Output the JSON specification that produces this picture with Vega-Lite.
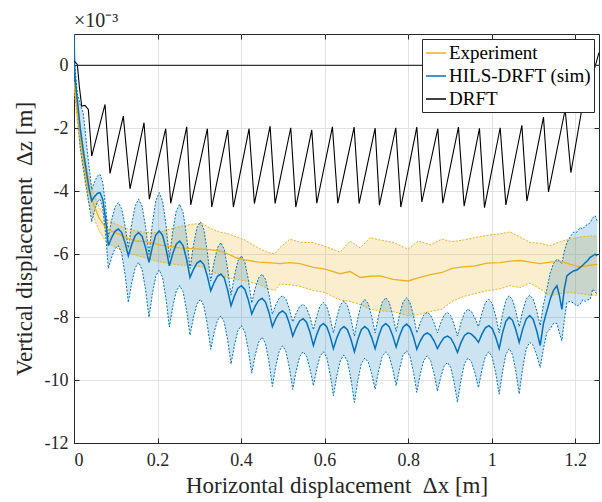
{
  "$schema": "https://vega.github.io/schema/vega-lite/v6.json",
  "width": 525,
  "height": 409,
  "autosize": {"type": "none"},
  "padding": {"left": 74, "top": 34, "right": 3, "bottom": 59},
  "background": "white",
  "config": {
    "font": "Liberation Serif",
    "view": {"stroke": "#262626", "strokeWidth": 1},
    "axis": {
      "labelFont": "Liberation Serif",
      "labelFontSize": 18,
      "labelColor": "#262626",
      "titleFont": "Liberation Serif",
      "titleFontSize": 23,
      "titleFontWeight": "normal",
      "titleColor": "#262626",
      "domainColor": "#262626",
      "tickColor": "#262626",
      "gridColor": "#e2e2e2",
      "grid": true
    },
    "legend": {
      "orient": "top-right",
      "offset": 5,
      "strokeColor": "#262626",
      "fillColor": "white",
      "padding": 3,
      "labelFont": "Liberation Serif",
      "labelFontSize": 19,
      "labelColor": "black",
      "symbolType": "stroke",
      "symbolSize": 400,
      "symbolStrokeWidth": 1.5,
      "rowPadding": 2,
      "labelOffset": 2,
      "labelLimit": 300
    }
  },
  "title": {
    "text": "×10⁻³",
    "anchor": "start",
    "frame": "group",
    "font": "Liberation Serif",
    "fontSize": 20,
    "fontWeight": "normal",
    "color": "#262626",
    "offset": 3
  },
  "datasets": {
    "blue": [
      {"x":0.000,"lo":1.0,"mid":1.0,"hi":1.0},
      {"x":0.002,"lo":-0.6,"mid":-0.3,"hi":0.0},
      {"x":0.008,"lo":-1.5,"mid":-1.1,"hi":-0.9},
      {"x":0.015,"lo":-2.6,"mid":-2.0,"hi":-1.25},
      {"x":0.022,"lo":-3.2,"mid":-2.7,"hi":-1.5},
      {"x":0.030,"lo":-3.9,"mid":-3.4,"hi":-2.5},
      {"x":0.036,"lo":-4.4,"mid":-3.9,"hi":-3.2},
      {"x":0.0424,"lo":-4.97,"mid":-4.30,"hi":-3.95},
      {"x":0.0490,"lo":-4.61,"mid":-4.17,"hi":-3.71},
      {"x":0.0557,"lo":-4.34,"mid":-4.07,"hi":-3.52},
      {"x":0.0623,"lo":-4.25,"mid":-4.04,"hi":-3.46},
      {"x":0.0689,"lo":-4.54,"mid":-4.26,"hi":-3.72},
      {"x":0.0756,"lo":-5.35,"mid":-4.89,"hi":-4.46},
      {"x":0.0822,"lo":-6.45,"mid":-5.73,"hi":-5.45},
      {"x":0.0902,"lo":-6.09,"mid":-5.47,"hi":-4.91},
      {"x":0.0982,"lo":-5.82,"mid":-5.27,"hi":-4.50},
      {"x":0.1062,"lo":-5.73,"mid":-5.20,"hi":-4.36},
      {"x":0.1141,"lo":-5.96,"mid":-5.31,"hi":-4.55},
      {"x":0.1221,"lo":-6.63,"mid":-5.63,"hi":-5.08},
      {"x":0.1301,"lo":-7.53,"mid":-6.05,"hi":-5.80},
      {"x":0.1384,"lo":-6.90,"mid":-5.68,"hi":-5.03},
      {"x":0.1466,"lo":-6.43,"mid":-5.41,"hi":-4.45},
      {"x":0.1549,"lo":-6.26,"mid":-5.31,"hi":-4.25},
      {"x":0.1631,"lo":-6.49,"mid":-5.43,"hi":-4.48},
      {"x":0.1714,"lo":-7.13,"mid":-5.79,"hi":-5.13},
      {"x":0.1796,"lo":-8.00,"mid":-6.26,"hi":-6.00},
      {"x":0.1877,"lo":-7.25,"mid":-5.76,"hi":-5.02},
      {"x":0.1958,"lo":-6.70,"mid":-5.39,"hi":-4.30},
      {"x":0.2040,"lo":-6.50,"mid":-5.26,"hi":-4.04},
      {"x":0.2121,"lo":-6.74,"mid":-5.40,"hi":-4.31},
      {"x":0.2202,"lo":-7.41,"mid":-5.82,"hi":-5.07},
      {"x":0.2283,"lo":-8.31,"mid":-6.37,"hi":-6.10},
      {"x":0.2366,"lo":-7.66,"mid":-5.98,"hi":-5.26},
      {"x":0.2448,"lo":-7.17,"mid":-5.68,"hi":-4.63},
      {"x":0.2531,"lo":-7.00,"mid":-5.58,"hi":-4.41},
      {"x":0.2613,"lo":-7.20,"mid":-5.73,"hi":-4.68},
      {"x":0.2696,"lo":-7.79,"mid":-6.16,"hi":-5.43},
      {"x":0.2778,"lo":-8.57,"mid":-6.74,"hi":-6.45},
      {"x":0.2861,"lo":-8.00,"mid":-6.48,"hi":-5.71},
      {"x":0.2943,"lo":-7.58,"mid":-6.28,"hi":-5.16},
      {"x":0.3026,"lo":-7.43,"mid":-6.21,"hi":-4.97},
      {"x":0.3109,"lo":-7.64,"mid":-6.33,"hi":-5.21},
      {"x":0.3191,"lo":-8.23,"mid":-6.69,"hi":-5.91},
      {"x":0.3274,"lo":-9.02,"mid":-7.16,"hi":-6.85},
      {"x":0.3355,"lo":-8.49,"mid":-6.90,"hi":-6.24},
      {"x":0.3436,"lo":-8.10,"mid":-6.70,"hi":-5.79},
      {"x":0.3517,"lo":-7.96,"mid":-6.63,"hi":-5.63},
      {"x":0.3598,"lo":-8.16,"mid":-6.76,"hi":-5.85},
      {"x":0.3679,"lo":-8.73,"mid":-7.14,"hi":-6.47},
      {"x":0.3760,"lo":-9.49,"mid":-7.64,"hi":-7.30},
      {"x":0.3843,"lo":-8.88,"mid":-7.32,"hi":-6.68},
      {"x":0.3925,"lo":-8.43,"mid":-7.08,"hi":-6.21},
      {"x":0.4008,"lo":-8.27,"mid":-7.00,"hi":-6.05},
      {"x":0.4091,"lo":-8.47,"mid":-7.12,"hi":-6.25},
      {"x":0.4173,"lo":-9.03,"mid":-7.45,"hi":-6.80},
      {"x":0.4256,"lo":-9.78,"mid":-7.90,"hi":-7.55},
      {"x":0.4338,"lo":-9.21,"mid":-7.65,"hi":-7.09},
      {"x":0.4421,"lo":-8.79,"mid":-7.47,"hi":-6.75},
      {"x":0.4503,"lo":-8.64,"mid":-7.40,"hi":-6.63},
      {"x":0.4585,"lo":-8.84,"mid":-7.52,"hi":-6.80},
      {"x":0.4668,"lo":-9.42,"mid":-7.85,"hi":-7.27},
      {"x":0.4750,"lo":-10.20,"mid":-8.30,"hi":-7.90},
      {"x":0.4831,"lo":-9.56,"mid":-8.05,"hi":-7.61},
      {"x":0.4913,"lo":-9.08,"mid":-7.87,"hi":-7.40},
      {"x":0.4994,"lo":-8.91,"mid":-7.80,"hi":-7.32},
      {"x":0.5075,"lo":-9.09,"mid":-7.90,"hi":-7.43},
      {"x":0.5157,"lo":-9.61,"mid":-8.20,"hi":-7.74},
      {"x":0.5238,"lo":-10.30,"mid":-8.60,"hi":-8.15},
      {"x":0.5320,"lo":-9.70,"mid":-8.33,"hi":-7.87},
      {"x":0.5403,"lo":-9.26,"mid":-8.12,"hi":-7.66},
      {"x":0.5485,"lo":-9.10,"mid":-8.05,"hi":-7.59},
      {"x":0.5567,"lo":-9.24,"mid":-8.16,"hi":-7.70},
      {"x":0.5650,"lo":-9.64,"mid":-8.48,"hi":-8.00},
      {"x":0.5732,"lo":-10.18,"mid":-8.90,"hi":-8.40},
      {"x":0.5812,"lo":-9.64,"mid":-8.55,"hi":-7.97},
      {"x":0.5892,"lo":-9.24,"mid":-8.29,"hi":-7.64},
      {"x":0.5972,"lo":-9.10,"mid":-8.20,"hi":-7.53},
      {"x":0.6051,"lo":-9.28,"mid":-8.30,"hi":-7.66},
      {"x":0.6131,"lo":-9.80,"mid":-8.60,"hi":-8.02},
      {"x":0.6211,"lo":-10.50,"mid":-9.00,"hi":-8.50},
      {"x":0.6295,"lo":-9.85,"mid":-8.65,"hi":-7.99},
      {"x":0.6379,"lo":-9.37,"mid":-8.39,"hi":-7.61},
      {"x":0.6463,"lo":-9.20,"mid":-8.30,"hi":-7.48},
      {"x":0.6546,"lo":-9.40,"mid":-8.40,"hi":-7.63},
      {"x":0.6630,"lo":-9.96,"mid":-8.70,"hi":-8.04},
      {"x":0.6714,"lo":-10.71,"mid":-9.10,"hi":-8.60},
      {"x":0.6797,"lo":-10.01,"mid":-8.70,"hi":-8.02},
      {"x":0.6879,"lo":-9.48,"mid":-8.40,"hi":-7.58},
      {"x":0.6962,"lo":-9.30,"mid":-8.30,"hi":-7.43},
      {"x":0.7045,"lo":-9.43,"mid":-8.39,"hi":-7.57},
      {"x":0.7127,"lo":-9.80,"mid":-8.65,"hi":-7.97},
      {"x":0.7210,"lo":-10.29,"mid":-9.00,"hi":-8.50},
      {"x":0.7294,"lo":-9.70,"mid":-8.60,"hi":-7.94},
      {"x":0.7378,"lo":-9.26,"mid":-8.30,"hi":-7.53},
      {"x":0.7462,"lo":-9.10,"mid":-8.20,"hi":-7.38},
      {"x":0.7545,"lo":-9.24,"mid":-8.30,"hi":-7.52},
      {"x":0.7629,"lo":-9.64,"mid":-8.58,"hi":-7.92},
      {"x":0.7713,"lo":-10.18,"mid":-8.95,"hi":-8.45},
      {"x":0.7796,"lo":-9.63,"mid":-8.59,"hi":-7.92},
      {"x":0.7878,"lo":-9.21,"mid":-8.32,"hi":-7.52},
      {"x":0.7961,"lo":-9.07,"mid":-8.22,"hi":-7.38},
      {"x":0.8043,"lo":-9.24,"mid":-8.32,"hi":-7.53},
      {"x":0.8126,"lo":-9.73,"mid":-8.62,"hi":-7.94},
      {"x":0.8208,"lo":-10.39,"mid":-9.02,"hi":-8.50},
      {"x":0.8290,"lo":-9.81,"mid":-8.76,"hi":-8.18},
      {"x":0.8373,"lo":-9.38,"mid":-8.57,"hi":-7.93},
      {"x":0.8455,"lo":-9.23,"mid":-8.50,"hi":-7.85},
      {"x":0.8537,"lo":-9.38,"mid":-8.57,"hi":-7.93},
      {"x":0.8620,"lo":-9.79,"mid":-8.75,"hi":-8.18},
      {"x":0.8702,"lo":-10.35,"mid":-9.00,"hi":-8.50},
      {"x":0.8782,"lo":-9.90,"mid":-8.80,"hi":-8.18},
      {"x":0.8862,"lo":-9.56,"mid":-8.65,"hi":-7.93},
      {"x":0.8942,"lo":-9.44,"mid":-8.60,"hi":-7.85},
      {"x":0.9021,"lo":-9.60,"mid":-8.67,"hi":-7.95},
      {"x":0.9101,"lo":-10.07,"mid":-8.86,"hi":-8.23},
      {"x":0.9181,"lo":-10.70,"mid":-9.12,"hi":-8.60},
      {"x":0.9265,"lo":-10.00,"mid":-8.81,"hi":-8.18},
      {"x":0.9349,"lo":-9.48,"mid":-8.58,"hi":-7.86},
      {"x":0.9433,"lo":-9.30,"mid":-8.50,"hi":-7.75},
      {"x":0.9516,"lo":-9.42,"mid":-8.54,"hi":-7.82},
      {"x":0.9600,"lo":-9.77,"mid":-8.65,"hi":-8.03},
      {"x":0.9684,"lo":-10.24,"mid":-8.80,"hi":-8.30},
      {"x":0.9767,"lo":-9.67,"mid":-8.54,"hi":-7.87},
      {"x":0.9849,"lo":-9.25,"mid":-8.34,"hi":-7.54},
      {"x":0.9932,"lo":-9.10,"mid":-8.27,"hi":-7.43},
      {"x":1.0015,"lo":-9.28,"mid":-8.37,"hi":-7.57},
      {"x":1.0097,"lo":-9.78,"mid":-8.64,"hi":-7.97},
      {"x":1.0180,"lo":-10.45,"mid":-9.00,"hi":-8.50},
      {"x":1.0260,"lo":-9.73,"mid":-8.50,"hi":-7.91},
      {"x":1.0340,"lo":-9.19,"mid":-8.13,"hi":-7.47},
      {"x":1.0420,"lo":-9.00,"mid":-8.00,"hi":-7.32},
      {"x":1.0499,"lo":-9.19,"mid":-8.10,"hi":-7.45},
      {"x":1.0579,"lo":-9.72,"mid":-8.40,"hi":-7.81},
      {"x":1.0659,"lo":-10.44,"mid":-8.80,"hi":-8.30},
      {"x":1.0743,"lo":-9.62,"mid":-8.38,"hi":-7.80},
      {"x":1.0827,"lo":-9.01,"mid":-8.06,"hi":-7.43},
      {"x":1.0911,"lo":-8.80,"mid":-7.95,"hi":-7.30},
      {"x":1.0994,"lo":-8.90,"mid":-8.07,"hi":-7.43},
      {"x":1.1078,"lo":-9.20,"mid":-8.43,"hi":-7.79},
      {"x":1.1162,"lo":-9.60,"mid":-8.90,"hi":-8.27},
      {"x":1.1240,"lo":-9.00,"mid":-8.20,"hi":-7.60},
      {"x":1.1322,"lo":-8.49,"mid":-7.80,"hi":-7.11},
      {"x":1.1401,"lo":-8.38,"mid":-7.43,"hi":-6.60},
      {"x":1.1480,"lo":-8.20,"mid":-7.15,"hi":-6.30},
      {"x":1.1562,"lo":-8.20,"mid":-7.00,"hi":-6.16},
      {"x":1.1620,"lo":-8.50,"mid":-7.30,"hi":-6.20},
      {"x":1.1681,"lo":-8.75,"mid":-7.75,"hi":-6.30},
      {"x":1.1740,"lo":-8.10,"mid":-7.10,"hi":-5.90},
      {"x":1.1801,"lo":-7.53,"mid":-6.69,"hi":-5.63},
      {"x":1.1880,"lo":-7.50,"mid":-6.60,"hi":-5.45},
      {"x":1.1959,"lo":-7.55,"mid":-6.53,"hi":-5.30},
      {"x":1.2040,"lo":-7.65,"mid":-6.50,"hi":-5.30},
      {"x":1.2120,"lo":-7.59,"mid":-6.42,"hi":-5.15},
      {"x":1.2180,"lo":-7.45,"mid":-6.35,"hi":-5.20},
      {"x":1.2240,"lo":-7.50,"mid":-6.27,"hi":-5.10},
      {"x":1.2300,"lo":-7.45,"mid":-6.20,"hi":-5.05},
      {"x":1.2359,"lo":-7.43,"mid":-6.10,"hi":-5.00},
      {"x":1.2419,"lo":-7.11,"mid":-6.05,"hi":-4.84},
      {"x":1.2479,"lo":-7.20,"mid":-6.00,"hi":-4.78},
      {"x":1.2527,"lo":-7.27,"mid":-6.05,"hi":-4.95}
    ],
    "orange": [
      {"x":0.000,"lo":-0.70,"mid":-0.55,"hi":-0.40},
      {"x":0.008,"lo":-1.80,"mid":-1.50,"hi":-1.20},
      {"x":0.016,"lo":-2.80,"mid":-2.40,"hi":-2.00},
      {"x":0.025,"lo":-3.60,"mid":-3.20,"hi":-2.80},
      {"x":0.034,"lo":-4.30,"mid":-3.95,"hi":-3.50},
      {"x":0.045,"lo":-4.75,"mid":-4.35,"hi":-4.00},
      {"x":0.060,"lo":-5.25,"mid":-4.85,"hi":-4.50},
      {"x":0.078,"lo":-5.63,"mid":-5.20,"hi":-4.89},
      {"x":0.095,"lo":-5.75,"mid":-5.30,"hi":-5.00},
      {"x":0.110,"lo":-5.85,"mid":-5.37,"hi":-5.10},
      {"x":0.130,"lo":-5.95,"mid":-5.50,"hi":-5.20},
      {"x":0.150,"lo":-6.05,"mid":-5.58,"hi":-5.26},
      {"x":0.170,"lo":-6.10,"mid":-5.60,"hi":-5.30},
      {"x":0.190,"lo":-6.20,"mid":-5.65,"hi":-5.32},
      {"x":0.210,"lo":-6.25,"mid":-5.72,"hi":-5.28},
      {"x":0.230,"lo":-6.30,"mid":-5.75,"hi":-5.20},
      {"x":0.254,"lo":-6.35,"mid":-5.80,"hi":-5.12},
      {"x":0.280,"lo":-6.35,"mid":-5.82,"hi":-5.05},
      {"x":0.306,"lo":-6.40,"mid":-5.84,"hi":-5.02},
      {"x":0.330,"lo":-6.55,"mid":-5.86,"hi":-5.20},
      {"x":0.350,"lo":-6.65,"mid":-5.90,"hi":-5.30},
      {"x":0.370,"lo":-6.75,"mid":-6.00,"hi":-5.35},
      {"x":0.390,"lo":-6.80,"mid":-6.12,"hi":-5.45},
      {"x":0.410,"lo":-6.85,"mid":-6.18,"hi":-5.55},
      {"x":0.441,"lo":-6.95,"mid":-6.25,"hi":-5.80},
      {"x":0.465,"lo":-7.10,"mid":-6.27,"hi":-5.95},
      {"x":0.481,"lo":-7.15,"mid":-6.28,"hi":-5.98},
      {"x":0.493,"lo":-6.95,"mid":-6.30,"hi":-5.79},
      {"x":0.517,"lo":-6.97,"mid":-6.27,"hi":-5.52},
      {"x":0.541,"lo":-7.02,"mid":-6.30,"hi":-5.62},
      {"x":0.573,"lo":-7.15,"mid":-6.42,"hi":-5.63},
      {"x":0.601,"lo":-7.22,"mid":-6.47,"hi":-5.75},
      {"x":0.637,"lo":-7.45,"mid":-6.62,"hi":-5.93},
      {"x":0.661,"lo":-7.50,"mid":-6.55,"hi":-5.58},
      {"x":0.685,"lo":-7.60,"mid":-6.74,"hi":-5.80},
      {"x":0.709,"lo":-7.75,"mid":-6.70,"hi":-5.47},
      {"x":0.733,"lo":-7.80,"mid":-6.69,"hi":-5.55},
      {"x":0.764,"lo":-7.82,"mid":-6.80,"hi":-5.62},
      {"x":0.800,"lo":-7.96,"mid":-6.85,"hi":-5.84},
      {"x":0.824,"lo":-7.92,"mid":-6.75,"hi":-5.58},
      {"x":0.853,"lo":-7.82,"mid":-6.65,"hi":-5.70},
      {"x":0.881,"lo":-7.75,"mid":-6.58,"hi":-5.52},
      {"x":0.905,"lo":-7.50,"mid":-6.45,"hi":-5.60},
      {"x":0.932,"lo":-7.35,"mid":-6.40,"hi":-5.55},
      {"x":0.960,"lo":-7.25,"mid":-6.37,"hi":-5.47},
      {"x":0.989,"lo":-7.16,"mid":-6.28,"hi":-5.40},
      {"x":1.020,"lo":-7.10,"mid":-6.27,"hi":-5.35},
      {"x":1.044,"lo":-7.00,"mid":-6.22,"hi":-5.29},
      {"x":1.068,"lo":-7.06,"mid":-6.20,"hi":-5.45},
      {"x":1.092,"lo":-6.92,"mid":-6.25,"hi":-5.63},
      {"x":1.116,"lo":-7.10,"mid":-6.30,"hi":-5.65},
      {"x":1.140,"lo":-7.32,"mid":-6.25,"hi":-5.73},
      {"x":1.164,"lo":-7.25,"mid":-6.22,"hi":-5.60},
      {"x":1.188,"lo":-7.22,"mid":-6.32,"hi":-5.52},
      {"x":1.212,"lo":-7.25,"mid":-6.40,"hi":-5.45},
      {"x":1.236,"lo":-7.30,"mid":-6.35,"hi":-5.42},
      {"x":1.253,"lo":-7.30,"mid":-6.32,"hi":-5.42}
    ],
    "drft": [
      {"x":0.001,"z":0.14},
      {"x":0.008,"z":0.03},
      {"x":0.0127,"z":-0.66},
      {"x":0.0184,"z":-1.29},
      {"x":0.0263,"z":-1.27},
      {"x":0.0343,"z":-1.40},
      {"x":0.0424,"z":-2.88},
      {"x":0.0743,"z":-1.24},
      {"x":0.0862,"z":-3.43},
      {"x":0.1181,"z":-1.61},
      {"x":0.1341,"z":-3.92},
      {"x":0.1677,"z":-1.82},
      {"x":0.1804,"z":-4.25},
      {"x":0.2196,"z":-2.01},
      {"x":0.2316,"z":-4.38},
      {"x":0.2699,"z":-1.95},
      {"x":0.2795,"z":-4.43},
      {"x":0.3193,"z":-2.01},
      {"x":0.3298,"z":-4.50},
      {"x":0.3681,"z":-2.05},
      {"x":0.3816,"z":-4.50},
      {"x":0.4192,"z":-2.01},
      {"x":0.4319,"z":-4.39},
      {"x":0.4695,"z":-1.93},
      {"x":0.4814,"z":-4.39},
      {"x":0.5190,"z":-1.98},
      {"x":0.5310,"z":-4.50},
      {"x":0.5693,"z":-2.05},
      {"x":0.5813,"z":-4.38},
      {"x":0.6187,"z":-1.95},
      {"x":0.6316,"z":-4.38},
      {"x":0.6707,"z":-1.96},
      {"x":0.6826,"z":-4.39},
      {"x":0.7210,"z":-1.99},
      {"x":0.7313,"z":-4.44},
      {"x":0.7705,"z":-1.98},
      {"x":0.7825,"z":-4.50},
      {"x":0.8208,"z":-1.96},
      {"x":0.8328,"z":-4.34},
      {"x":0.8711,"z":-2.01},
      {"x":0.8831,"z":-4.38},
      {"x":0.9205,"z":-1.96},
      {"x":0.9341,"z":-4.47},
      {"x":0.9708,"z":-2.00},
      {"x":0.9828,"z":-4.52},
      {"x":1.0204,"z":-1.98},
      {"x":1.0340,"z":-4.43},
      {"x":1.0723,"z":-1.90},
      {"x":1.0843,"z":-4.31},
      {"x":1.1241,"z":-1.64},
      {"x":1.1361,"z":-4.02},
      {"x":1.1760,"z":-1.40},
      {"x":1.1897,"z":-3.41},
      {"x":1.2199,"z":-1.08},
      {"x":1.2310,"z":-0.92},
      {"x":1.2455,"z":-0.13},
      {"x":1.2570,"z":0.41}
    ],
    "zero": [
      {"x":0.008,"x2":1.257,"z":0}
    ]
  },
  "resolve": {"axis": {"x": "independent", "y": "independent"}},
  "layer": [
    {
      "encoding": {
        "x": {
          "field": "x",
          "type": "quantitative",
          "scale": {"domain": [0, 1.257], "nice": false, "zero": false},
          "axis": {
            "title": "Horizontal displacement \u00a0Δx [m]",
            "values": [0, 0.2, 0.4, 0.6, 0.8, 1, 1.2],
            "labelExpr": "format(datum.value, '~g')",
            "labelFont": "Liberation Serif",
            "titleFont": "Liberation Serif",
            "tickSize": -5,
            "labelPadding": 13,
            "titlePadding": 5
          }
        }
      },
      "layer": [
        {
          "data": {"name": "orange"},
          "mark": {"type": "area", "color": "#EDB120", "opacity": 0.22, "clip": true},
          "encoding": {
            "y": {
              "field": "hi",
              "type": "quantitative",
              "scale": {"domain": [-12, 1], "nice": false, "zero": false},
              "axis": {
                "title": "Vertical displacement \u00a0Δz [m]",
                "values": [-12, -10, -8, -6, -4, -2, 0],
                "labelExpr": "replace(format(datum.value, '~g'), '−', '-')",
                "labelFont": "Liberation Serif",
                "titleFont": "Liberation Serif",
                "tickSize": -5,
                "labelPadding": 11,
                "titlePadding": 8
              }
            },
            "y2": {"field": "lo"}
          }
        },
        {
          "data": {"name": "blue"},
          "mark": {"type": "area", "color": "#0072BD", "opacity": 0.2, "clip": true},
          "encoding": {
            "y": {"field": "hi", "type": "quantitative"},
            "y2": {"field": "lo"}
          }
        },
        {
          "data": {"name": "orange"},
          "mark": {"type": "line", "color": "#EDB120", "strokeWidth": 1, "strokeDash": [2, 1.5], "clip": true},
          "encoding": {"y": {"field": "hi", "type": "quantitative"}}
        },
        {
          "data": {"name": "orange"},
          "mark": {"type": "line", "color": "#EDB120", "strokeWidth": 1, "strokeDash": [2, 1.5], "clip": true},
          "encoding": {"y": {"field": "lo", "type": "quantitative"}}
        },
        {
          "data": {"name": "blue"},
          "mark": {"type": "line", "color": "#0072BD", "strokeWidth": 1, "strokeDash": [2, 1.5], "clip": true},
          "encoding": {"y": {"field": "hi", "type": "quantitative"}}
        },
        {
          "data": {"name": "blue"},
          "mark": {"type": "line", "color": "#0072BD", "strokeWidth": 1, "strokeDash": [2, 1.5], "clip": true},
          "encoding": {"y": {"field": "lo", "type": "quantitative"}}
        },
        {
          "data": {"name": "orange"},
          "mark": {"type": "line", "strokeWidth": 1.3, "clip": true},
          "encoding": {
            "y": {"field": "mid", "type": "quantitative"},
            "color": {
              "datum": "Experiment",
              "type": "nominal",
              "scale": {
                "domain": ["Experiment", "HILS-DRFT (sim)", "DRFT"],
                "range": ["#EDB120", "#0072BD", "#000000"]
              },
              "legend": {"title": null}
            }
          }
        },
        {
          "data": {"name": "blue"},
          "mark": {"type": "line", "strokeWidth": 1.5, "clip": true},
          "encoding": {
            "y": {"field": "mid", "type": "quantitative"},
            "color": {"datum": "HILS-DRFT (sim)", "type": "nominal"}
          }
        },
        {
          "data": {"name": "drft"},
          "mark": {"type": "line", "strokeWidth": 1.1, "clip": true},
          "encoding": {
            "y": {"field": "z", "type": "quantitative"},
            "color": {"datum": "DRFT", "type": "nominal"}
          }
        },
        {
          "data": {"name": "zero"},
          "mark": {"type": "rule", "color": "#333333", "strokeWidth": 1.2, "clip": true},
          "encoding": {
            "x2": {"field": "x2"},
            "y": {"field": "z", "type": "quantitative"}
          }
        }
      ]
    },
    {
      "data": {"name": "zero"},
      "mark": {"type": "point", "opacity": 0},
      "encoding": {
        "x": {
          "field": "x",
          "type": "quantitative",
          "scale": {"domain": [0, 1.257], "nice": false, "zero": false},
          "axis": {
            "orient": "top",
            "values": [0, 0.2, 0.4, 0.6, 0.8, 1, 1.2],
            "labels": false,
            "title": null,
            "grid": false,
            "domain": false,
            "tickSize": -5
          }
        },
        "y": {
          "field": "z",
          "type": "quantitative",
          "scale": {"domain": [-12, 1], "nice": false, "zero": false},
          "axis": {
            "orient": "right",
            "values": [-12, -10, -8, -6, -4, -2, 0],
            "labels": false,
            "title": null,
            "grid": false,
            "domain": false,
            "tickSize": -5
          }
        }
      }
    }
  ]
}
